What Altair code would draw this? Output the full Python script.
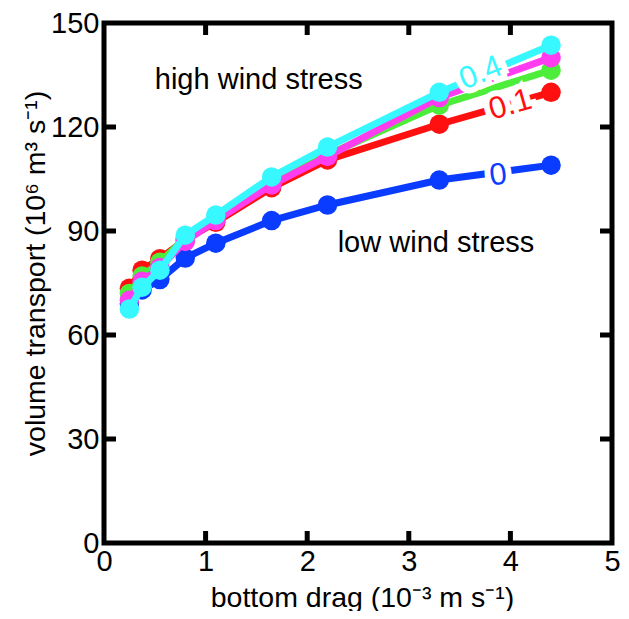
import altair as alt
import pandas as pd

# bottom drag (10^-3 m s^-1)
drag = [0.25, 0.375, 0.55, 0.8, 1.1, 1.65, 2.2, 3.3, 4.4]
# wind stress series
series = ["0", "0.1", "0.2", "0.3", "0.4"]
t_00 = [69.0, 73.0, 76.0, 82.2, 86.5, 93.0, 97.5, 104.7, 109.0]
t_01 = [73.5, 78.7, 82.0, 87.5, 92.5, 102.5, 110.5, 120.8, 130.0]
t_02 = [72.0, 77.0, 81.0, 88.0, 93.5, 103.5, 112.0, 126.3, 136.4]
t_03 = [70.0, 75.5, 79.5, 87.0, 93.0, 103.3, 111.5, 128.5, 140.0]
t_04 = [67.5, 73.8, 78.7, 88.8, 94.6, 105.6, 114.2, 130.0, 143.6]
values = [t_00, t_01, t_02, t_03, t_04]
colors = ["#0a3cff", "#ff1010", "#4cee3a", "#ff3cf0", "#38f8ff"]

# inline labels
lab_text = ["0.4", "0.1", "0"]
lab_x = [3.71, 4.0, 3.88]
lab_y = [135.5, 126.3, 106.0]
lab_angle = [338, 344, 353]
lab_color = ["#38f8ff", "#ff1010", "#0a3cff"]

ann_text = ["high wind stress", "low wind stress"]
ann_x = [0.5, 2.3]
ann_y = [133.5, 86.5]

xticks = [1, 2, 3, 4]
yticks = [30, 60, 90, 120]

W, H = 508, 520
FONT = "Liberation Sans"

xscale = alt.Scale(domain=[0, 5], nice=False, zero=False)
yscale = alt.Scale(domain=[0, 150], nice=False, zero=False)

xaxis = alt.Axis(values=[0, 1, 2, 3, 4, 5], format="d", title="bottom drag (10⁻³ m s⁻¹)",
                 labelPadding=4, labelFlush=False, labelOverlap=False,
                 titleX=258, titleY=54, titleBaseline="middle")
yaxis = alt.Axis(values=[0, 30, 60, 90, 120, 150], format="d",
                 title="volume transport (10⁶ m³ s⁻¹)",
                 labelPadding=5, labelFlush=False, labelOverlap=False,
                 titleX=-69, titleY=250, titleBaseline="middle", titleAngle=270)


def X(field):
    return alt.X(field, scale=xscale, axis=xaxis)


def Y(field):
    return alt.Y(field, scale=yscale, axis=yaxis)


layers = []
for name, vals, col in zip(series, values, colors):
    df = pd.DataFrame({"drag": drag, "transport": vals, "stress": name})
    base = alt.Chart(df).encode(x=X("drag:Q"), y=Y("transport:Q"))
    layers.append(base.mark_line(color=col, strokeWidth=7))
    layers.append(base.mark_circle(color=col, size=380, opacity=1))

for t, x, y, a, c in zip(lab_text, lab_x, lab_y, lab_angle, lab_color):
    d = pd.DataFrame({"t": [t], "x": [x], "y": [y]})
    b = alt.Chart(d).encode(x=X("x:Q"), y=Y("y:Q"), text="t:N")
    layers.append(b.mark_text(font=FONT, fontSize=31, angle=a, color="white", stroke="white",
                              strokeWidth=12, align="center", baseline="middle"))
    layers.append(b.mark_text(font=FONT, fontSize=31, angle=a, color=c,
                              align="center", baseline="middle"))

ann_df = pd.DataFrame({"t": ann_text, "x": ann_x, "y": ann_y})
layers.append(alt.Chart(ann_df).mark_text(font=FONT, fontSize=29, color="black", align="left",
                                          baseline="middle").encode(
    x=X("x:Q"), y=Y("y:Q"), text="t:N"))

xt_df = pd.DataFrame({"x": xticks})
yt_df = pd.DataFrame({"y": yticks})
tick_style = dict(color="black", strokeWidth=5)
layers.append(alt.Chart(xt_df).mark_rule(**tick_style).encode(
    x=X("x:Q"), y=alt.value(H), y2=alt.value(H - 12)))
layers.append(alt.Chart(xt_df).mark_rule(**tick_style).encode(
    x=X("x:Q"), y=alt.value(0), y2=alt.value(12)))
layers.append(alt.Chart(yt_df).mark_rule(**tick_style).encode(
    y=Y("y:Q"), x=alt.value(0), x2=alt.value(12)))
layers.append(alt.Chart(yt_df).mark_rule(**tick_style).encode(
    y=Y("y:Q"), x=alt.value(W - 12), x2=alt.value(W)))

chart = alt.layer(*layers).properties(
    width=W, height=H,
    background="white",
    autosize=alt.AutoSizeParams(type="none"),
    padding={"left": 96, "top": 15, "right": 9, "bottom": 68},
).configure_view(
    stroke="black", strokeWidth=5
).configure_axis(
    labelFont=FONT, titleFont=FONT, labelFontSize=29, titleFontSize=28.5,
    labelColor="black", titleColor="black", titleFontWeight="normal",
    domain=False, ticks=False, grid=False,
)

chart.save("out.html", embed_options={"renderer": "svg", "actions": False})
